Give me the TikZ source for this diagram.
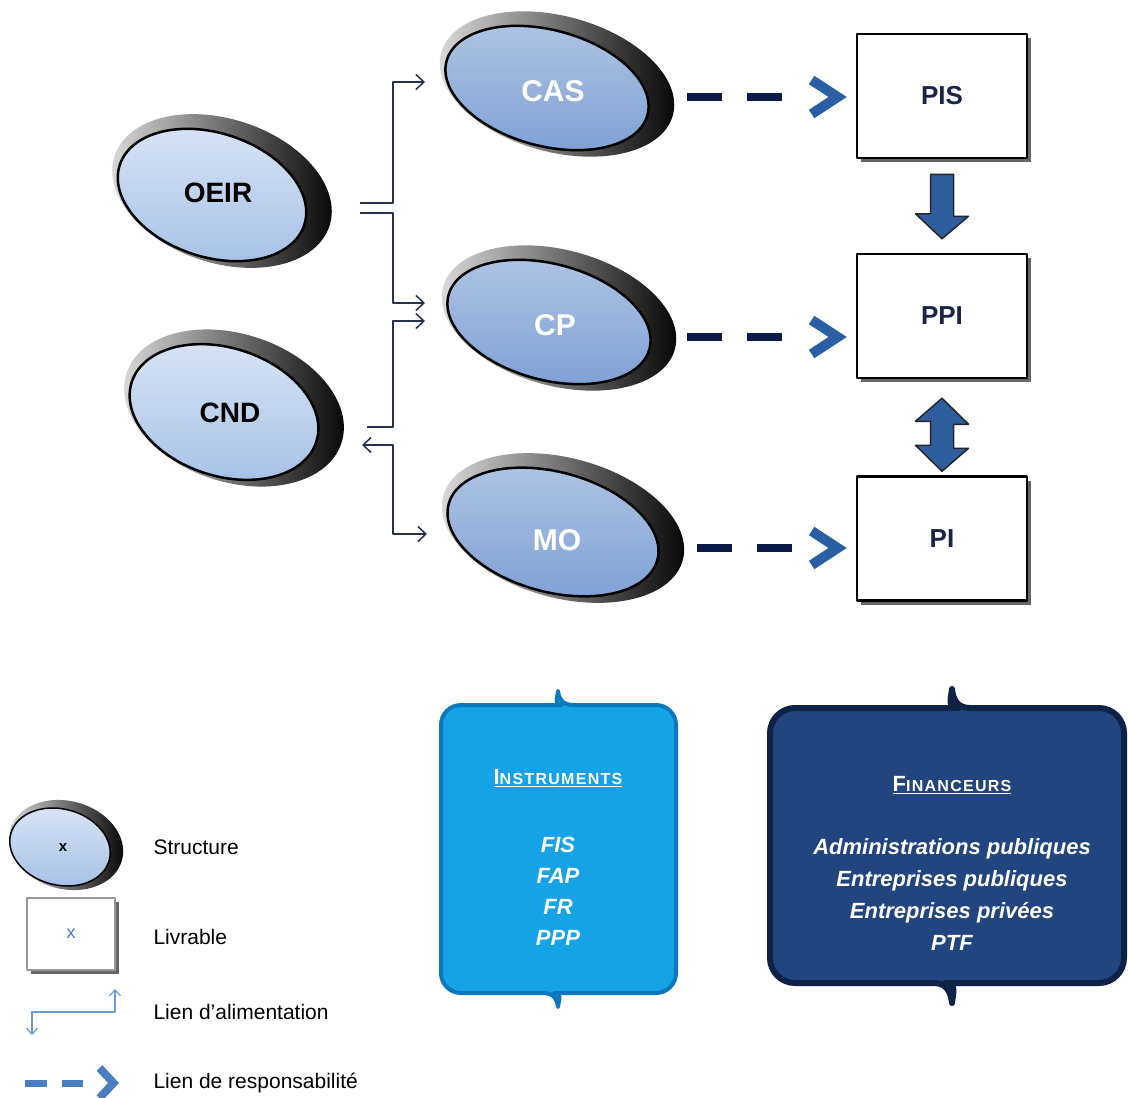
\documentclass[tikz,border=0pt]{standalone}
\usepackage{fontspec}
\setmainfont{Liberation Sans}
\usepackage{tikz}
\usetikzlibrary{positioning, arrows.meta, shadows, calc}

\definecolor{faceLight}{HTML}{A4BFE6}
\definecolor{faceDark}{HTML}{7C9FD4}
\definecolor{linkNavy}{HTML}{27304F}
\definecolor{respNavy}{HTML}{0C1A48}
\definecolor{respBlue}{HTML}{2A5FA5}
\definecolor{boxText}{HTML}{1B2447}
\definecolor{blockMid}{HTML}{6C98D2}
\definecolor{blockEdge}{HTML}{2F5E9E}
\definecolor{instrBlue}{HTML}{16A2E6}
\definecolor{instrEdge}{HTML}{0A78BE}
\definecolor{finBlue}{HTML}{21457E}
\definecolor{finEdge}{HTML}{0E2147}
\definecolor{legBlue}{HTML}{4B7DC2}
\definecolor{legLine}{HTML}{6B9AD6}

\tikzset{
  ring/.style={left color=black!12, middle color=black!45, right color=black},
  faceL/.style={top color=faceLight!40!white, bottom color=faceLight, draw=black, line width=2.5pt},
  faceD/.style={top color=faceDark!60!white, bottom color=faceDark, draw=black, line width=2.5pt},
  slabelL/.style={font=\fontsize{28}{30}\selectfont\bfseries, text=black},
  slabelD/.style={font=\fontsize{30}{32}\selectfont\bfseries, text=white},
  livrable/.style={draw=black, line width=2.5pt, fill=white, minimum width=170pt, minimum height=124pt,
    text=boxText, font=\fontsize{26}{28}\selectfont\bfseries,
    drop shadow={shadow xshift=4pt, shadow yshift=-4pt, fill=black!75, opacity=.8}},
  feed/.style={draw=linkNavy, line width=1.5pt, -{Straight Barb[length=8pt,width=15pt]}},
  feedboth/.style={feed, {Straight Barb[length=8pt,width=15pt]}-{Straight Barb[length=8pt,width=15pt]}},
  resp/.style={draw=respNavy, line width=8pt, dash pattern=on 35pt off 25pt on 35pt off 300pt,
    -{Straight Barb[length=26pt,width=34pt,line width=10pt,color=respBlue]}, shorten >=9pt},
  blockarrow/.style={left color=blockEdge, middle color=blockMid, right color=blockEdge, draw=black!85, line width=1.5pt},
  panelhead/.style={text=white, font=\fontsize{16}{24}\selectfont\bfseries\addfontfeatures{LetterSpace=8}},
  paneltext/.style={text=white, align=center, font=\fontsize{22}{31}\selectfont\bfseries\itshape},
  legtext/.style={anchor=west, font=\fontsize{21}{24}\selectfont},
}

\begin{document}
\begin{tikzpicture}[x=1pt, y=-1pt, line join=round]
\useasboundingbox[fill=white] (0,0) rectangle (1128,1098);

% Structures (bevelled ellipses)
\foreach \n/\x/\y/\a/\b/\r/\tx/\ty/\t in {oeir/212/195/97/62/18/218/193/OEIR, cnd/224/412/97/64/18/230/413/CND} {
  \shade[ring, rotate around={-\r:({\x+10},{\y-4})}] ({\x+10},{\y-4}) ellipse ({\a+16} and {\b+10});
  \shadedraw[faceL, rotate around={-\r:(\x,\y)}] (\x,\y) ellipse ({\a} and {\b});
  \node[slabelL] (\n) at (\tx,\ty) {\t};
}
\foreach \n/\x/\y/\a/\b/\r/\tx/\ty/\t in {cas/547/88/104/58/15/553/91/CAS, cp/549/322/104/58/15/555/325/CP, mo/553/532/108/60/15/557/540/MO} {
  \shade[ring, rotate around={-\r:({\x+10},{\y-4})}] ({\x+10},{\y-4}) ellipse ({\a+16} and {\b+10});
  \shadedraw[faceD, rotate around={-\r:(\x,\y)}] (\x,\y) ellipse ({\a} and {\b});
  \node[slabelD] (\n) at (\tx,\ty) {\t};
}

% Livrables
\node[livrable] (pis) at (942,96) {PIS};
\node[livrable] (ppi) at (942,316) {PPI};
\node[livrable] (pi) at (942,538.5) {PI};

% Liens d'alimentation
\coordinate (oeir-o1) at (360,203);
\coordinate (oeir-o2) at (360,213);
\coordinate (cnd-o1) at (367,427);
\coordinate (cnd-o2) at (362,445);
\coordinate (cas-i) at (425,82);
\coordinate (cp-i1) at (425,303);
\coordinate (cp-i2) at (425,321);
\coordinate (mo-i) at (427,534);
\draw[feed] (oeir-o1) -- ++(33,0) |- (cas-i);
\draw[feed] (oeir-o2) -- ++(33,0) |- (cp-i1);
\draw[feed] (cnd-o1) -- ++(26,0) |- (cp-i2);
\draw[feedboth] (cnd-o2) -- ++(31,0) |- (mo-i);

% Liens de responsabilite
\coordinate (cas-r) at (687,97);
\coordinate (cp-r) at (687,337);
\coordinate (mo-r) at (697,548);
\draw[resp] (cas-r) -- (cas-r -| pis.west);
\draw[resp] (cp-r) -- (cp-r -| ppi.west);
\draw[resp] (mo-r) -- (mo-r -| pi.west);

% Block arrows between livrables
\shadedraw[blockarrow] ($(pis.south)+(-11.5,15)$) -- ++(23,0) -- ++(0,42) -- ++(15,0)
  -- ($(ppi.north)+(0,-14)$) -- ++(-26.5,-25) -- ++(15,0) -- cycle;
\shadedraw[blockarrow] ($(ppi.south)+(0,19)$) -- ++(26.5,26) -- ++(-15,0) -- ++(0,24) -- ++(15,0)
  -- ($(pi.north)+(0,-4)$) -- ++(-26.5,-26) -- ++(15,0) -- ++(0,-24) -- ++(-15,0) -- cycle;

% Panels
\path[fill=instrBlue, draw=instrEdge, line width=4pt] (558,691) .. controls (559,699) and (562,705) .. (574,705)
  [rounded corners=20pt] -- (676,705) -- (676,993) -- (574,993) [sharp corners]
  .. controls (562,993) and (559,999) .. (558,1007)
  .. controls (557,999) and (554,993) .. (542,993)
  [rounded corners=20pt] -- (441,993) -- (441,705) -- (542,705) [sharp corners]
  .. controls (554,705) and (557,699) .. (558,691) -- cycle;
\node[panelhead] (instr-head) at (558,778) {\underline{{\fontsize{22}{24}\selectfont I}NSTRUMENTS}};
\node[paneltext] (instr-list) at (558,891) {FIS\\FAP\\FR\\PPP};

\path[fill=finBlue, draw=finEdge, line width=6pt] (952,689) .. controls (953,699) and (957,708) .. (970,708)
  [rounded corners=25pt] -- (1124,708) -- (1124,983) -- (970,983) [sharp corners]
  .. controls (957,983) and (953,993) .. (952,1003)
  .. controls (951,993) and (947,983) .. (934,983)
  [rounded corners=25pt] -- (770,983) -- (770,708) -- (934,708) [sharp corners]
  .. controls (947,708) and (951,699) .. (952,689) -- cycle;
\node[panelhead] (fin-head) at (952,785) {\underline{{\fontsize{22}{24}\selectfont F}INANCEURS}};
\node[paneltext, font=\fontsize{22}{32}\selectfont\bfseries\itshape] (fin-list) at (952,895)
  {Administrations publiques\\Entreprises publiques\\Entreprises privées\\PTF};

% Legend
\shade[ring, rotate around={-15:(66,845)}] (66,845) ellipse (58 and 44);
\shadedraw[faceL, line width=1.5pt, rotate around={-15:(60,847)}] (60,847) ellipse (51 and 38);
\node[font=\fontsize{15}{16}\selectfont\bfseries] (leg-struct) at (63,848) {x};
\node[livrable, minimum width=88pt, minimum height=72pt, draw=black!40, line width=1.5pt,
  text=legBlue, font=\fontsize{18}{20}\selectfont] (leg-deliv) at (71,934) {x};
\coordinate (leg-feed-a) at (32,1035);
\coordinate (leg-feed-b) at (115,989);
\draw[draw=legLine, line width=1.2pt, {Straight Barb[length=6pt,width=11pt]}-{Straight Barb[length=6pt,width=11pt]}]
  (leg-feed-a) -- ++(0,-23) -| (leg-feed-b);
\coordinate (leg-resp-a) at (25,1083);
\coordinate (leg-resp-b) at (119,1083);
\draw[draw=legBlue, line width=7pt, dash pattern=on 22pt off 15pt on 21pt off 100pt,
  -{Straight Barb[length=14pt,width=30pt,line width=8pt,color=legBlue]}] (leg-resp-a) -- (leg-resp-b);
\node[legtext] (leg-struct-t) at (150,847) {Structure};
\node[legtext] (leg-deliv-t) at (150,937) {Livrable};
\node[legtext] (leg-feed-t) at (150,1012) {Lien d’alimentation};
\node[legtext] (leg-resp-t) at (150,1083) {Lien de responsabilité};

\end{tikzpicture}
\end{document}
